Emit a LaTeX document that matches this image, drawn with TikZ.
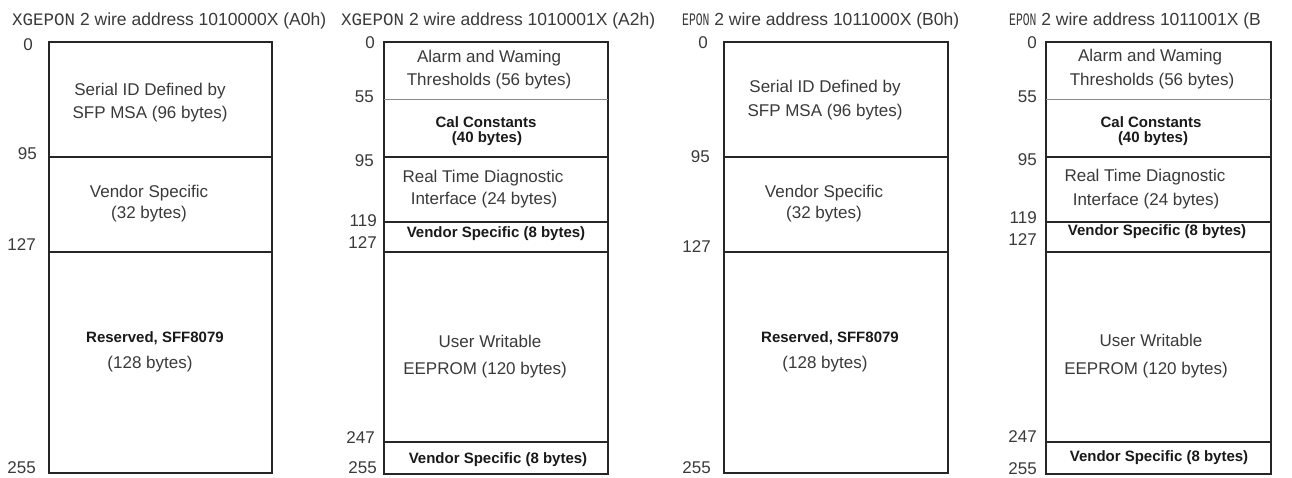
\documentclass[tikz,border=0pt]{standalone}
\usepackage{fontspec}
\usepackage{graphicx}
\setmainfont{Liberation Sans}
\newfontfamily\typefam{Liberation Mono}
\usetikzlibrary{positioning}

\definecolor{inkgray}{HTML}{3A3A3A}
\definecolor{rulegray}{HTML}{8C8C8C}
\newcommand{\narrowtype}[1]{\scalebox{0.65}[1]{\typefam #1}}
\tikzset{
  field/.style={text=inkgray, inner sep=0pt, font=\fontsize{17}{20}\selectfont},
  fieldbold/.style={text=black!90, inner sep=0pt, font=\fontsize{15}{18}\selectfont\bfseries},
  offs/.style={anchor=east, text=inkgray, inner sep=0pt, font=\fontsize{17}{20}\selectfont},
  heading/.style={anchor=base west, text=inkgray, inner sep=0pt, font=\fontsize{17.5}{20}\selectfont},
  edge/.style={line width=2pt, black!85},
  thinedge/.style={line width=0.9pt, rulegray}
}

\begin{document}
\begin{tikzpicture}[x=1pt,y=-1pt]
\clip (0,0) rectangle (1292,478);
\fill[white] (0,0) rectangle (1292,478);

% headings
\node[heading] (tA0) at (12,26) {{\typefam XGEPON} 2 wire address 1010000X (A0h)};
\node[heading] (tA2) at (341,26) {{\typefam XGEPON} 2 wire address 1010001X (A2h)};
\node[heading] (tB0) at (682,26) {\narrowtype{EPON} 2 wire address 1011000X (B0h)};
\node[heading] (tB2) at (1009,26) {\narrowtype{EPON} 2 wire address 1011001X (B};

% A0h
\coordinate (A0nw) at (49,42); \coordinate (A0se) at (272,473);
\draw[edge] (A0nw) rectangle (A0se);
\draw[edge, line width=2.8pt] (A0nw -| A0se) -- (A0se);
\draw[edge] (49,157) -- (272,157);
\draw[edge] (49,252) -- (272,252);
\node[offs] (A0o0) at (33,45) {0};
\node[offs] (A0o95) at (37,154) {95};
\node[offs] (A0o127) at (36,245) {127};
\node[offs] (A0o255) at (36,468) {255};
\node[field] (A0ser) at (150,91) {Serial ID Defined by};
\node[field] (A0msa) at (150,114) {SFP MSA (96 bytes)};
\node[field] (A0ven) at (149,193) {Vendor Specific};
\node[field] (A0vb) at (149,214) {(32 bytes)};
\node[fieldbold] (A0res) at (155,338) {Reserved, SFF8079};
\node[field] (A0rb) at (150,364) {(128 bytes)};

% A2h
\coordinate (A2nw) at (384,42); \coordinate (A2se) at (608,474);
\draw[edge] (A2nw) rectangle (A2se);
\draw[edge, line width=2.8pt] (A2nw -| A2se) -- (A2se);
\draw[thinedge] (384,99) -- (608,99);
\draw[edge] (384,157) -- (608,157);
\draw[edge] (384,222) -- (608,222);
\draw[edge] (384,252) -- (608,252);
\draw[edge] (384,442) -- (608,442);
\node[offs] (A2o0) at (375,43) {0};
\node[offs] (A2o55) at (374,97) {55};
\node[offs] (A2o95) at (374,161) {95};
\node[offs] (A2o119) at (377,221) {119};
\node[offs] (A2o127) at (377,243) {127};
\node[offs] (A2o247) at (375,438) {247};
\node[offs] (A2o255) at (377,468) {255};
\node[field] (A2alm) at (489,58) {Alarm and Waming};
\node[field] (A2thr) at (489,81) {Thresholds (56 bytes)};
\node[fieldbold] (A2cal) at (486,122) {Cal Constants};
\node[fieldbold] (A2cb) at (487,139) {(40 bytes)};
\node[field] (A2rt) at (483,178) {Real Time Diagnostic};
\node[field] (A2if) at (484,200) {Interface (24 bytes)};
\node[fieldbold] (A2v1) at (496,234) {Vendor Specific (8 bytes)};
\node[field] (A2usr) at (490,341) {User Writable};
\node[field] (A2ee) at (485,370) {EEPROM (120 bytes)};
\node[fieldbold] (A2v2) at (498,460) {Vendor Specific (8 bytes)};

% B0h
\begin{scope}[xshift=675pt]
\coordinate (B0nw) at (49,42); \coordinate (B0se) at (273,473);
\draw[edge] (B0nw) rectangle (B0se);
\draw[edge, line width=2.8pt] (B0nw -| B0se) -- (B0se);
\draw[edge] (49,157) -- (273,157);
\draw[edge] (49,252) -- (273,252);
\node[offs] (B0o0) at (33,43) {0};
\node[offs] (B0o95) at (35,157) {95};
\node[offs] (B0o127) at (36,247) {127};
\node[offs] (B0o255) at (36,468) {255};
\node[field] (B0ser) at (150,88) {Serial ID Defined by};
\node[field] (B0msa) at (150,112) {SFP MSA (96 bytes)};
\node[field] (B0ven) at (149,193) {Vendor Specific};
\node[field] (B0vb) at (149,214) {(32 bytes)};
\node[fieldbold] (B0res) at (155,338) {Reserved, SFF8079};
\node[field] (B0rb) at (150,364) {(128 bytes)};
\end{scope}

% B2h
\begin{scope}[xshift=662pt]
\coordinate (B2nw) at (384,42); \coordinate (B2se) at (609,474);
\draw[edge] (B2nw) rectangle (B2se);
\draw[edge, line width=2.8pt] (B2nw -| B2se) -- (B2se);
\draw[thinedge] (384,99) -- (609,99);
\draw[edge] (384,157) -- (609,157);
\draw[edge] (384,222) -- (609,222);
\draw[edge] (384,252) -- (609,252);
\draw[edge] (384,442) -- (609,442);
\node[offs] (B2o0) at (375,43) {0};
\node[offs] (B2o55) at (375,97) {55};
\node[offs] (B2o95) at (375,160) {95};
\node[offs] (B2o119) at (375,218) {119};
\node[offs] (B2o127) at (375,240) {127};
\node[offs] (B2o247) at (375,437) {247};
\node[offs] (B2o255) at (375,469) {255};
\node[field] (B2alm) at (488,57) {Alarm and Waming};
\node[field] (B2thr) at (490,81) {Thresholds (56 bytes)};
\node[fieldbold] (B2cal) at (489,122) {Cal Constants};
\node[fieldbold] (B2cb) at (491,139) {(40 bytes)};
\node[field] (B2rt) at (483,177) {Real Time Diagnostic};
\node[field] (B2if) at (484,201) {Interface (24 bytes)};
\node[fieldbold] (B2v1) at (495,232) {Vendor Specific (8 bytes)};
\node[field] (B2usr) at (489,340) {User Writable};
\node[field] (B2ee) at (484,370) {EEPROM (120 bytes)};
\node[fieldbold] (B2v2) at (497,458) {Vendor Specific (8 bytes)};
\end{scope}
\end{tikzpicture}
\end{document}
